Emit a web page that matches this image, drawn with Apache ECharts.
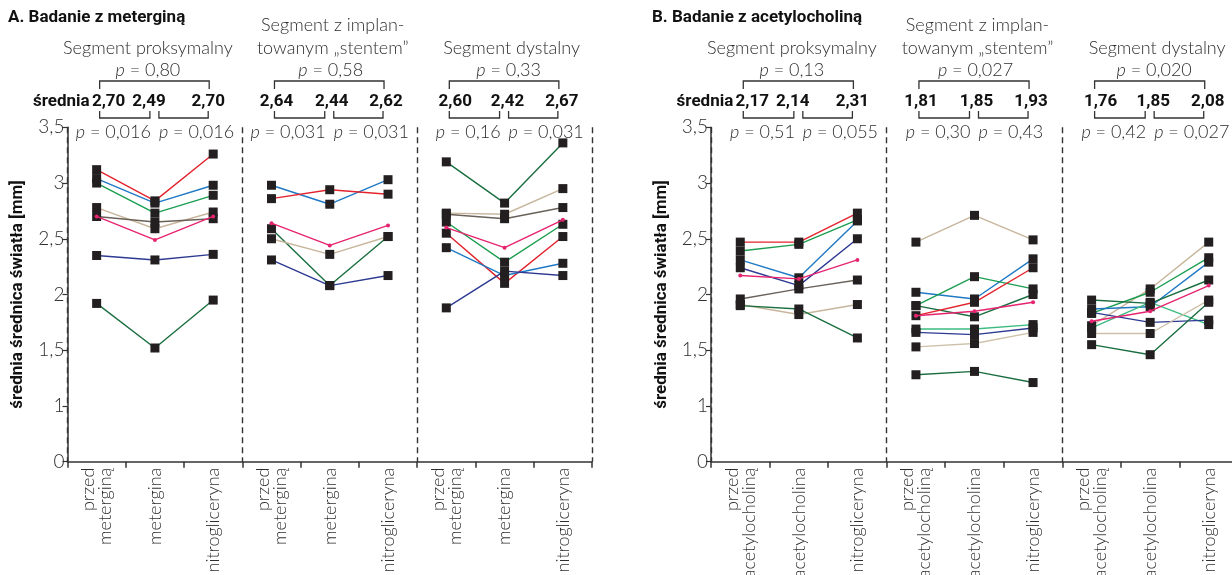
<!DOCTYPE html>
<html><head><meta charset="utf-8">
<script src="https://cdn.jsdelivr.net/npm/echarts@6/dist/echarts.min.js"></script>
<style>html,body{margin:0;padding:0;background:#fff}#c{width:1232px;height:575px}</style>
</head><body><div id="c"></div>
<script>
// ---------- categories & tick labels ----------
const catsA = ['przed\nmeterginą','metergina','nitrogliceryna','przed\nmeterginą','metergina','nitrogliceryna','przed\nmeterginą','metergina','nitrogliceryna'];
const catsB = ['przed\nacetylocholiną','acetylocholina','nitrogliceryna','przed\nacetylocholiną','acetylocholina','nitrogliceryna','przed\nacetylocholiną','acetylocholina','nitrogliceryna'];
const yTickLabels = ['0','1','1,5','2','2,5','3','3,5'];
const titleA = 'A. Badanie z meterginą';
const titleB = 'B. Badanie z acetylocholiną';
const segNames = ['Segment proksymalny', 'Segment z implan-', 'Segment dystalny'];
const segName2 = 'towanym „stentem”';
const yName = 'średnia średnica światła [mm]';

// ---------- colours ----------
const COL = {red:'#e3232d', blue:'#2079c4', green:'#1b9e50', tan:'#c7b69c', gray:'#6a6159', navy:'#2c3a91', dgreen:'#1a6e3f', mint:'#3cbb80', ltan:'#cfc1a9', pink:'#e6246f'};

// ---------- Panel A (metergina) ----------
const aProxLines = [[3.12,2.84,3.26],[3.04,2.82,2.98],[3.00,2.73,2.89],[2.78,2.59,2.74],[2.70,2.65,2.68],[2.35,2.31,2.36],[1.92,1.52,1.95]];
const aProxColors = ['red','blue','green','tan','gray','navy','dgreen'];
const aProxMean = [2.70,2.49,2.70];
const aStentLines = [[2.98,2.81,3.03],[2.86,2.94,2.90],[2.59,2.08,2.52],[2.50,2.36,2.52],[2.31,2.08,2.17]];
const aStentColors = ['blue','red','dgreen','tan','navy'];
const aStentMean = [2.64,2.44,2.62];
const aDistLines = [[3.19,2.82,3.36],[2.73,2.72,2.95],[2.72,2.68,2.78],[2.65,2.29,2.63],[2.55,2.10,2.52],[2.42,2.17,2.28],[1.88,2.21,2.17]];
const aDistColors = ['dgreen','tan','gray','green','red','blue','navy'];
const aDistMean = [2.60,2.42,2.67];
const aMeanLabels = [['2,70','2,49','2,70'],['2,64','2,44','2,62'],['2,60','2,42','2,67']];
const aPOverall = ['0,80','0,58','0,33'];
const aPPairs = [['0,016','0,016'],['0,031','0,031'],['0,16','0,031']];

// ---------- Panel B (acetylocholina) ----------
const bProxLines = [[2.47,2.47,2.73],[2.39,2.45,2.67],[2.31,2.15,2.66],[2.24,2.08,2.50],[1.96,2.05,2.13],[1.91,1.82,1.91],[1.90,1.87,1.61]];
const bProxColors = ['red','green','blue','navy','gray','tan','dgreen'];
const bProxMean = [2.17,2.14,2.31];
const bStentLines = [[2.47,2.71,2.49],[2.02,1.96,2.32],[1.90,2.16,2.05],[1.90,1.80,2.00],[1.81,1.93,2.24],[1.69,1.69,1.73],[1.66,1.64,1.70],[1.53,1.56,1.66],[1.28,1.31,1.21]];
const bStentColors = ['tan','blue','green','dgreen','red','mint','navy','ltan','dgreen'];
const bStentMean = [1.81,1.85,1.93];
const bDistLines = [[1.72,2.05,2.47],[1.83,2.02,2.33],[1.87,1.89,2.29],[1.95,1.92,2.13],[1.70,1.93,1.73],[1.84,1.75,1.77],[1.65,1.65,1.95],[1.55,1.46,1.93]];
const bDistColors = ['tan','green','blue','dgreen','mint','navy','ltan','dgreen'];
const bDistMean = [1.76,1.85,2.08];
const bMeanLabels = [['2,17','2,14','2,31'],['1,81','1,85','1,93'],['1,76','1,85','2,08']];
const bPOverall = ['0,13','0,027','0,020'];
const bPPairs = [['0,51','0,055'],['0,30','0,43'],['0,42','0,027']];

// ---------- fonts ----------
const BOLD = "Roboto,'Noto Sans',sans-serif";
const LIGHT = "Lato,'Open Sans',sans-serif";
const TXT = '#2e2e2e';
const BSZ = 17;   // bold text size
const LSZ = 18;   // light text size

// broken axis: 0..1 compressed into one half-unit step
function ty(v){ return v >= 1 ? v - 0.5 : v * 0.5; }

const chart = echarts.init(document.getElementById('c'), null, {renderer:'canvas'});

const grids = [
  {left:67.5, top:127.3, width:524.5, height:334.4, outerBoundsMode:'none', containLabel:false},
  {left:711, top:127.3, width:527, height:334.4, outerBoundsMode:'none', containLabel:false}
];

function catAxis(gi, cats){
  return {type:'category', gridIndex:gi, data:cats, boundaryGap:true,
    axisLine:{lineStyle:{color:'#333', width:1.5}},
    axisTick:{show:true, inside:false, length:6, lineStyle:{color:'#333', width:1.5}},
    axisLabel:{rotate:90, interval:0, margin:6, color:TXT, fontFamily:LIGHT, fontWeight:300, fontSize:LSZ, lineHeight:17, hideOverlap:false},
    splitLine:{show:false}};
}
function valXAxis(gi){
  return {type:'value', gridIndex:gi, min:0, max:9, interval:3, position:'top',
    axisLine:{show:false}, axisTick:{show:false}, axisLabel:{show:false},
    splitLine:{show:true, lineStyle:{color:'#333', width:1.4, type:[6,4]}}};
}
function yAxis(gi){
  return {type:'value', gridIndex:gi, min:0, max:3, interval:0.5,
    name:yName, nameLocation:'middle', nameRotate:90, nameGap:41,
    nameTextStyle:{fontFamily:BOLD, fontWeight:'bold', fontSize:BSZ, color:'#111'},
    axisLine:{show:true, lineStyle:{color:'#333', width:1.5}},
    axisTick:{show:true, inside:false, length:5, lineStyle:{color:'#333', width:1.2}},
    axisLabel:{margin:3, color:TXT, fontFamily:LIGHT, fontWeight:300, fontSize:19,
      formatter:(val, idx)=> yTickLabels[idx]},
    splitLine:{show:false}};
}

const series = [];
function addPanel(gi, segs){
  const xi = gi*2;
  const pts = [];
  segs.forEach((seg, s)=>{
    seg.lines.forEach((vals, k)=>{
      const data = new Array(9).fill('-');
      vals.forEach((v, j)=>{ data[3*s+j] = ty(v); pts.push([3*s+j, ty(v)]); });
      series.push({type:'line', xAxisIndex:xi, yAxisIndex:gi, data, symbol:'none', silent:true,
        lineStyle:{color:COL[seg.colors[k]], width:1.4}, z:2, animation:false});
    });
  });
  series.push({type:'scatter', xAxisIndex:xi, yAxisIndex:gi, data:pts, symbol:'rect', symbolSize:9,
    itemStyle:{color:'#231f20', opacity:1}, z:3, silent:true, animation:false});
  segs.forEach((seg, s)=>{
    const data = new Array(9).fill('-');
    seg.mean.forEach((v, j)=>{ data[3*s+j] = ty(v); });
    series.push({type:'line', xAxisIndex:xi, yAxisIndex:gi, data, symbol:'circle', symbolSize:4, showSymbol:true,
      itemStyle:{color:COL.pink, opacity:1}, lineStyle:{color:COL.pink, width:1.4}, z:4, silent:true, animation:false});
  });
}
addPanel(0, [{lines:aProxLines, colors:aProxColors, mean:aProxMean},{lines:aStentLines, colors:aStentColors, mean:aStentMean},{lines:aDistLines, colors:aDistColors, mean:aDistMean}]);
addPanel(1, [{lines:bProxLines, colors:bProxColors, mean:bProxMean},{lines:bStentLines, colors:bStentColors, mean:bStentMean},{lines:bDistLines, colors:bDistColors, mean:bDistMean}]);

chart.setOption({
  animation:false,
  grid:grids,
  xAxis:[catAxis(0,catsA), valXAxis(0), catAxis(1,catsB), valXAxis(1)],
  yAxis:[yAxis(0), yAxis(1)],
  series
});

// ---------- header annotations (positioned from the category scale) ----------
const Y = {title:18, seg1:25, seg:48, p:70, brT:81, brTd:89, mean:102, brBu:111, brB:118, pp:132};
const segTitleOff = [-7, 3, 7];
const pOff = [-7, 1, 4];
const valOff = [[12,-6,-5],[5,2,-2],[9,3,-1]];
const graphics = [];
function txt(x, y, text, opt){
  graphics.push({type:'text', x, y, silent:true, style:Object.assign({text, fill:TXT, fontFamily:LIGHT, fontWeight:300, fontSize:LSZ, align:'center', verticalAlign:'middle'}, opt||{})});
}
function pText(x, y, val, align){
  graphics.push({type:'text', x, y, silent:true, style:{text:'{i|p} = '+val, fill:TXT, fontFamily:LIGHT, fontWeight:300, fontSize:LSZ, align, verticalAlign:'middle',
    rich:{i:{fontStyle:'italic', fontFamily:LIGHT, fontWeight:300, fontSize:LSZ, fill:TXT}}}});
}
function bracket(pts){
  graphics.push({type:'polyline', silent:true, shape:{points:pts}, style:{stroke:'#333', lineWidth:1.3, fill:null}});
}
const boldStyle = {fontFamily:BOLD, fontWeight:'bold', fontSize:BSZ, fill:'#111'};
function header(gi, title, titleX, meanLabels, pOverall, pPairs){
  const xi = gi*2;
  const cx = i => chart.convertToPixel({xAxisIndex:xi}, i);
  txt(titleX, Y.title, title, Object.assign({align:'left'}, boldStyle));
  for(let s=0;s<3;s++){
    const c0 = cx(3*s), c1 = cx(3*s+1), c2 = cx(3*s+2);
    const mid = (c0+c2)/2;
    if(s===1){
      txt(mid+segTitleOff[s], Y.seg1, segNames[s]);
      txt(mid+segTitleOff[s], Y.seg, segName2);
    } else {
      txt(mid+segTitleOff[s], Y.seg, segNames[s]);
    }
    pText(mid+pOff[s], Y.p, pOverall[s], 'center');
    bracket([[c0+3, Y.brTd],[c0+3, Y.brT],[c2-4, Y.brT],[c2-4, Y.brTd]]);
    [c0,c1,c2].forEach((c,j)=> txt(c+valOff[s][j], Y.mean, meanLabels[s][j], boldStyle));
    if(s===0){
      txt(c0+valOff[0][0]-19, Y.mean, 'średnia', Object.assign({}, boldStyle, {align:'right'}));
    }
    bracket([[c0+3, Y.brBu],[c0+3, Y.brB],[c1-5, Y.brB],[c1-5, Y.brBu]]);
    bracket([[c1+4, Y.brBu],[c1+4, Y.brB],[c2-5, Y.brB],[c2-5, Y.brBu]]);
    pText(c1-4, Y.pp, pPairs[s][0], 'right');
    pText(c1+4, Y.pp, pPairs[s][1], 'left');
  }
}
header(0, titleA, 8, aMeanLabels, aPOverall, aPPairs);
header(1, titleB, 652, bMeanLabels, bPOverall, bPPairs);
chart.setOption({graphic:graphics});
</script></body></html>
